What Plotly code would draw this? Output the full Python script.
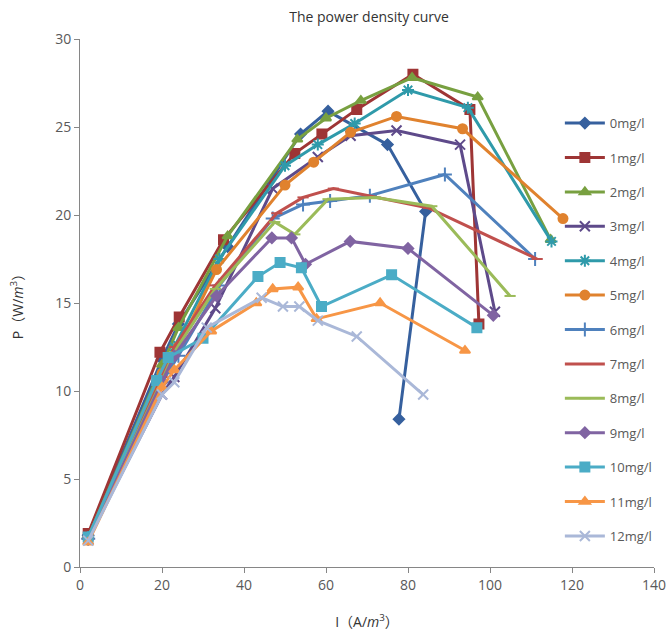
import plotly.graph_objects as go

names = ["0mg/l", "1mg/l", "2mg/l", "3mg/l", "4mg/l", "5mg/l", "6mg/l",
         "7mg/l", "8mg/l", "9mg/l", "10mg/l", "11mg/l", "12mg/l"]

x0 = [2, 20, 24, 36, 53.8, 60.5, 75, 84.3, 77.8]
y0 = [1.8, 11.8, 13.8, 18.2, 24.6, 25.9, 24.0, 20.2, 8.4]
x1 = [2, 19.5, 24.2, 35, 52.4, 59, 67.5, 81.2, 95.1, 97.3]
y1 = [1.9, 12.2, 14.2, 18.6, 23.5, 24.6, 26.0, 28.0, 26.0, 13.8]
x2 = [2, 20, 24, 36, 53, 60, 68.5, 81, 97, 114.8]
y2 = [1.7, 11.5, 13.6, 18.8, 24.3, 25.5, 26.5, 27.8, 26.7, 18.6]
x3 = [2, 20, 23, 33, 47, 58, 66, 77.2, 92.7, 101.2]
y3 = [1.6, 9.8, 10.8, 14.7, 21.5, 23.3, 24.5, 24.8, 24.0, 14.5]
x4 = [2, 20, 23, 34, 50, 58, 67, 80, 94.6, 115]
y4 = [1.7, 11.0, 12.5, 17.5, 22.8, 24.0, 25.2, 27.1, 26.1, 18.5]
x5 = [2, 20, 24, 33.3, 50, 57, 66, 77.2, 93.3, 117.8]
y5 = [1.6, 11.0, 12.5, 16.9, 21.7, 23.0, 24.7, 25.6, 24.9, 19.8]
x6 = [2, 20, 24, 34, 47, 54.4, 61, 70.7, 89, 111]
y6 = [1.6, 10.5, 12.0, 16.0, 19.8, 20.6, 20.8, 21.1, 22.3, 17.5]
x7 = [2, 20, 23, 33, 48, 54.4, 61.8, 85, 111.5]
y7 = [1.7, 10.8, 12.5, 16.0, 20.1, 21.0, 21.5, 20.4, 17.5]
x8 = [2, 20, 23, 33, 47.5, 52.4, 60.5, 72, 85.8, 104.9]
y8 = [1.7, 10.6, 12.2, 15.8, 19.6, 18.9, 20.9, 21.0, 20.5, 15.4]
x9 = [2, 20, 23, 33.3, 46.8, 51.6, 55, 65.9, 80, 100.8]
y9 = [1.6, 10.5, 12.0, 15.4, 18.7, 18.7, 17.2, 18.5, 18.1, 14.3]
x10 = [2, 18.7, 21.5, 30, 43.4, 48.8, 54, 58.9, 76, 96.8]
y10 = [1.7, 10.6, 11.9, 13.0, 16.5, 17.3, 17.0, 14.8, 16.6, 13.6]
x11 = [2, 20, 23, 32, 43, 47, 53.2, 57.7, 73.2, 93.9]
y11 = [1.4, 10.2, 11.2, 13.4, 15.0, 15.8, 15.9, 14.1, 15.0, 12.3]
x12 = [2, 20, 23, 30.9, 44.3, 49.5, 53.5, 58, 67.5, 83.7]
y12 = [1.5, 9.8, 10.5, 13.6, 15.3, 14.8, 14.8, 14.0, 13.1, 9.8]

xs = [x0, x1, x2, x3, x4, x5, x6, x7, x8, x9, x10, x11, x12]
ys = [y0, y1, y2, y3, y4, y5, y6, y7, y8, y9, y10, y11, y12]

colors = ["#36609E", "#9E3535", "#78A040", "#5E4A8A", "#2F9AAA", "#E0822E",
          "#4F81BD", "#C0504D", "#9BBB59", "#8064A2", "#4BACC6", "#F79646", "#AAB8D8"]
symbols = ["diamond", "square", "triangle-up", "x-thin-open", "asterisk-open", "circle",
           "cross-thin-open", "line-ew-open", "line-ew-open", "diamond", "square",
           "triangle-up", "x-thin-open"]
sizes = [8, 9, 9, 10, 10, 9, 10, 8, 8, 8, 9, 9, 10]

fig = go.Figure()
for i in range(len(names)):
    fig.add_trace(go.Scatter(
        x=xs[i], y=ys[i], mode="lines+markers", name=names[i],
        legendgroup=names[i],
        line=dict(color=colors[i], width=3),
        marker=dict(symbol=symbols[i], size=sizes[i], color=colors[i],
                    line=dict(color=colors[i], width=2)),
    ))

font_fam = "Open Sans, Noto Sans, Noto Sans CJK SC, sans-serif"
fig.update_layout(
    width=671, height=644,
    paper_bgcolor="white", plot_bgcolor="white",
    margin=dict(l=80, r=17, t=39, b=77, autoexpand=False),
    title=dict(text="The power density curve", x=0.55, xanchor="center",
               y=0.973, yanchor="middle",
               font=dict(family=font_fam, size=14, color="#333333")),
    font=dict(family=font_fam, color="#595959"),
    showlegend=True,
    legend=dict(x=0.836, xanchor="left", y=0.869, yanchor="top",
                bgcolor="rgba(0,0,0,0)", tracegroupgap=14.5,
                font=dict(size=13, color="#595959"), itemwidth=40),
    xaxis=dict(range=[0, 140], dtick=20, showgrid=False, zeroline=False,
               showline=True, linecolor="#868686", linewidth=1,
               ticks="outside", ticklen=5, tickcolor="#868686",
               tickfont=dict(size=14, color="#595959"),
               title=dict(text="I（A/<i>m</i><sup>3</sup>）", standoff=24,
                          font=dict(size=14, color="#333333"))),
    yaxis=dict(range=[0, 30], dtick=5, showgrid=False, zeroline=False,
               showline=True, linecolor="#868686", linewidth=1,
               ticks="outside", ticklen=5, tickcolor="#868686",
               tickfont=dict(size=14, color="#595959"),
               title=dict(text="P（W/<i>m</i><sup>3</sup>）", standoff=28,
                          font=dict(size=14, color="#333333"))),
)

fig.write_html("out.html")
